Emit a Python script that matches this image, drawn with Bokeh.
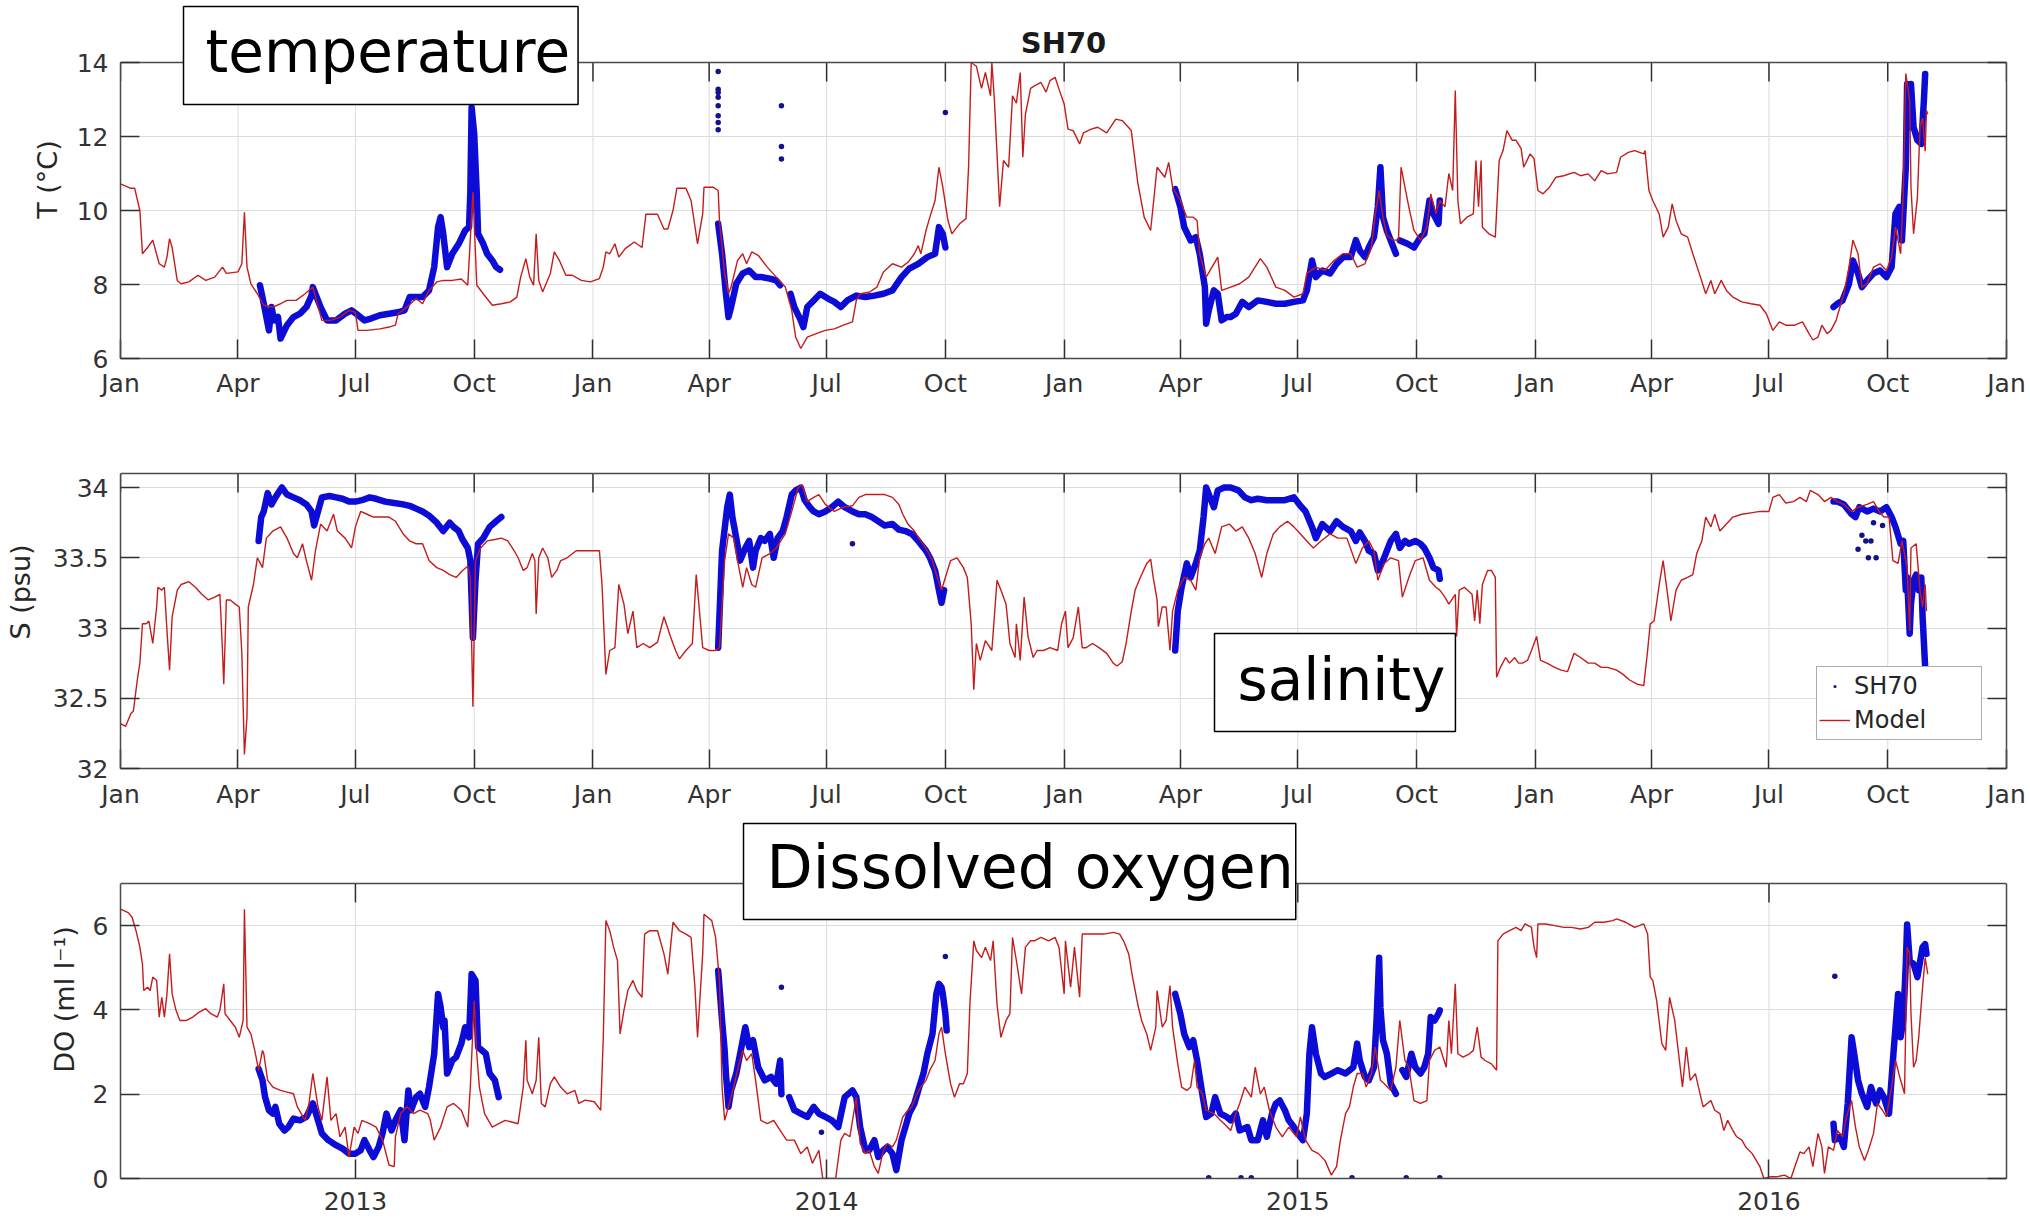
import numpy as np
import pandas as pd
from bokeh.plotting import figure
from bokeh.models import (Range1d, FixedTicker, LinearAxis, Label, Legend,
                          LegendItem, NumeralTickFormatter)
from bokeh.layouts import column
from bokeh.embed import file_html
from bokeh.resources import INLINE

nan = float("nan")

# ---------------------------------------------------------------- data
# x values are days since 2012-01-01
quarter_tick_dates = ["2012-01-01", "2012-04-01", "2012-07-01", "2012-10-01",
                      "2013-01-01", "2013-04-01", "2013-07-01", "2013-10-01",
                      "2014-01-01", "2014-04-01", "2014-07-01", "2014-10-01",
                      "2015-01-01", "2015-04-01", "2015-07-01", "2015-10-01",
                      "2016-01-01"]
quarter_tick_labels = ["Jan", "Apr", "Jul", "Oct"] * 4 + ["Jan"]
year_tick_dates = ["2012-07-01", "2013-07-01", "2014-07-01", "2015-07-01"]
year_tick_labels = ["2013", "2014", "2015", "2016"]

T_ticks = [6, 8, 10, 12, 14]
S_ticks = [32, 32.5, 33, 33.5, 34]
S_limits = (32, 34.1)
DO_ticks = [0, 2, 4, 6]
DO_limits = (0, 7)

# ---- Temperature: model (day, degC)
model_T = [(0,10.72),(8,10.6),(11,10.6),(15,10.0),(17,8.83),(21,9.0),(25,9.2),(30,8.56),(34,8.47),(36,8.74),
 (38,9.24),(40,9.0),(44,8.1),(47,8.02),(53,8.07),(60,8.25),(66,8.11),(73,8.2),(79,8.47),(82,8.3),(91,8.34),
 (94,8.56),(96,9.95),(98,8.47),(101,8.02),(106,7.75),(111,7.44),(118,7.39),(124,7.48),(129,7.57),(136,7.57),
 (143,7.75),(149,7.93),(156,7.03),(163,7.03),(170,7.12),(177,7.3),(182,7.25),(184,6.76),(191,6.76),(201,6.8),
 (208,6.85),(213,6.9),(215,7.21),(222,7.39),(229,7.62),(234,7.48),(239,7.84),(245,8.07),(250,8.11),(257,8.11),
 (264,8.15),(269,7.98),(273,10.5),(276,7.98),(281,7.75),(288,7.44),(295,7.48),(302,7.53),(307,7.66),(310,8.2),
 (314,8.7),(317,8.2),(320,7.98),(322,9.37),(324,8.11),(327,7.8),(333,8.3),(336,8.88),(340,8.65),(345,8.25),
 (350,8.25),(357,8.11),(364,8.07),(371,8.16),(374,8.47),(376,8.88),(379,8.83),(383,9.1),(386,8.74),(391,8.97),
 (398,9.15),(404,9.0),(407,9.9),(416,9.9),(421,9.5),(424,9.5),(428,10.0),(431,10.6),(438,10.6),(442,10.27),
 (447,9.1),(451,9.91),(452,10.63),(459,10.63),(463,10.54),(464,9.73),(468,8.3),(471,7.75),(473,7.93),(478,8.65),
 (482,8.83),(485,8.56),(489,8.88),(494,8.79),(501,8.47),(508,8.2),(515,7.93),(520,7.3),(523,6.58),(527,6.27),
 (532,6.58),(539,6.67),(546,6.76),(553,6.8),(560,6.9),(567,6.99),(570,7.57),(573,7.75),(580,7.79),(586,7.93),
 (591,8.34),(598,8.56),(605,8.47),(610,8.6),(615,8.83),(618,9.05),(620,8.83),(624,9.46),(627,9.82),(631,10.27),
 (634,11.17),(637,10.63),(641,9.73),(644,9.37),(650,9.64),(655,9.78),(657,11.2),(659,14.0),(663,13.9),(667,13.3),
 (670,13.73),(674,13.1),(675,14.0),(677,12.97),(681,10.1),(684,11.35),(688,11.17),(691,13.1),(694,12.9),(697,13.73),
 (699,11.44),(701,12.6),(705,13.3),(708,13.37),(713,13.46),(717,13.2),(720,13.51),(724,13.6),(727,13.28),(731,12.88),
 (734,12.2),(738,12.16),(743,11.8),(746,12.1),(752,12.2),(757,12.25),(764,12.1),(771,12.47),(776,12.43),(783,12.16),
 (788,10.76),(793,9.82),(798,9.46),(803,11.17),(809,10.9),(812,11.3),(815,10.63),(821,10.27),(826,9.82),(831,9.82),
 (834,9.73),(836,8.83),(841,8.2),(847,8.56),(850,8.74),(853,7.84),(860,7.93),(867,8.02),(874,8.2),(883,8.7),
 (888,8.47),(895,7.93),(902,7.84),(909,7.66),(916,7.75),(919,8.3),(926,8.47),(933,8.38),(940,8.65),(947,8.83),
 (953,8.83),(958,8.47),(964,8.56),(969,9.0),(972,9.9),(975,10.54),(978,9.82),(981,9.33),(986,9.2),(990,9.2),
 (992,11.17),(995,10.63),(998,10.1),(1002,9.46),(1007,9.2),(1012,9.55),(1015,10.45),(1019,9.91),(1022,10.27),
 (1026,10.1),(1029,11.0),(1032,10.54),(1034,13.24),(1036,10.27),(1038,9.64),(1043,9.82),(1048,9.91),(1050,11.35),
 (1052,10.1),(1054,11.35),(1055,9.55),(1060,9.37),(1065,9.28),(1068,11.35),(1071,11.62),(1074,12.16),(1078,11.9),
 (1081,11.9),(1085,11.67),(1087,11.17),(1092,11.53),(1095,11.4),(1098,10.54),(1102,10.45),(1107,10.63),(1112,10.9),
 (1118,10.94),(1126,11.03),(1131,10.94),(1137,10.99),(1142,10.8),(1147,11.08),(1152,10.99),(1159,11.03),(1162,11.44),
 (1168,11.57),(1173,11.62),(1180,11.53),(1181,11.62),(1184,10.54),(1187,10.27),(1192,9.9),(1195,9.28),(1199,9.55),
 (1202,10.18),(1205,9.73),(1209,9.37),(1214,9.28),(1218,8.83),(1223,8.3),(1228,7.75),(1232,8.11),(1235,7.75),
 (1240,8.11),(1244,7.84),(1249,7.66),(1256,7.53),(1263,7.48),(1270,7.44),(1275,7.21),(1280,6.76),(1285,6.99),
 (1290,6.9),(1297,6.9),(1303,6.99),(1308,6.67),(1311,6.5),(1315,6.58),(1318,6.9),(1322,6.67),(1325,6.76),
 (1329,7.03),(1332,7.39),(1335,7.75),(1339,8.47),(1342,9.2),(1346,8.83),(1349,7.93),(1353,8.02),(1358,8.47),
 (1363,8.56),(1368,8.38),(1372,8.74),(1375,9.55),(1379,8.83),(1381,10.45),(1383,13.7),(1386,12.97),(1387,10.63),
 (1389,9.37),(1392,10.36),(1394,12.25),(1396,12.5),(1398,11.6),(1399,12.7),(1400,12.6)]

# ---- Temperature: SH70 observations (continuous stretches)
obs_T = [
 [(108,7.98),(111,7.48),(115,6.76),(117,7.39),(119,7.03),(122,7.12),(124,6.54),(129,6.9),(134,7.12),(139,7.21),
  (144,7.39),(148,7.7),(149,7.93),(155,7.39),(160,7.03),(167,7.03),(174,7.21),(179,7.3),(184,7.17),(189,7.03),
  (194,7.08),(201,7.17),(208,7.21),(215,7.25),(220,7.3),(224,7.66),(227,7.66),(234,7.66),(239,7.84),(243,8.47),
  (246,9.55),(248,9.82),(250,9.37),(253,8.47),(257,8.83),(262,9.1),(267,9.46),(270,9.55),(271,10.5),(272,12.79),
  (274,12.07),(276,10.45),(277,9.37),(281,9.1),(284,8.83),(288,8.65),(291,8.47),(294,8.4)],
 [(463,9.64),(466,8.83),(469,7.75),(471,7.12),(473,7.39),(477,8.02),(482,8.3),(487,8.38),(492,8.2),(497,8.2),
  (503,8.16),(508,8.11),(511,7.98)],
 [(519,7.75),(522,7.39),(527,7.03),(529,6.85),(532,7.39),(537,7.57),(542,7.75),(548,7.62),(553,7.53),(558,7.39),
  (563,7.57),(570,7.7),(577,7.66),(584,7.7),(591,7.75),(598,7.84),(605,8.2),(611,8.43),(618,8.56),(625,8.74),
  (631,8.83),(634,9.55),(637,9.37),(639,9.0)],
 [(817,10.58),(821,10.1),(824,9.55),(829,9.19),(833,9.28),(836,8.83),(840,7.93),(841,6.94),(843,7.3),(847,7.84),
  (850,7.75),(853,7.03),(857,7.12),(860,7.12),(864,7.21),(869,7.53),(874,7.39),(881,7.57),(888,7.53),(895,7.48),
  (902,7.48),(909,7.53),(916,7.57),(919,7.84),(923,8.65),(926,8.2),(931,8.38),(937,8.3),(942,8.56),(947,8.74),
  (953,8.74),(957,9.2),(960,8.92),(964,8.74),(967,9.0),(971,9.28),(974,10.1),(976,11.17),(978,9.82),(981,9.46),
  (984,9.19),(988,8.83)],
 [(991,9.19),(997,9.1),(1002,9.0),(1007,9.28),(1010,9.37),(1014,10.27),(1017,9.91),(1021,9.64),(1022,10.27)],
 [(1327,7.39),(1330,7.48),(1334,7.57),(1339,8.02),(1342,8.65),(1346,8.3),(1349,7.93),(1353,8.11),(1358,8.3),
  (1363,8.38),(1368,8.2),(1372,8.47),(1375,9.91),(1378,10.1),(1380,9.19),(1383,11.17),(1384,13.42),(1386,12.25),
  (1387,13.42),(1389,12.25),(1392,11.9),(1395,11.8),(1397,12.97),(1398,13.69)],
]
obs_T_isolated = [(463,13.76),(463,13.28),(463,13.19),(463,13.06),(463,12.83),(463,12.56),(463,12.38),(463,12.18),
                  (512,12.83),(512,11.73),(512,11.39),(639,12.65)]

# ---- Salinity: model (day, psu)
model_S = [(0,32.32),(4,32.30),(8,32.39),(10,32.41),(13,32.63),(15,32.75),(17,33.03),(20,33.03),(22,33.05),(25,32.89),
 (28,33.15),(29,33.29),(32,33.27),(34,33.29),(36,32.98),(38,32.7),(40,33.08),(44,33.27),(47,33.31),(53,33.33),
 (58,33.29),(63,33.24),(68,33.2),(73,33.22),(77,33.24),(79,32.84),(80,32.6),(82,33.2),(85,33.2),(89,33.17),
 (92,33.15),(94,32.82),(96,32.1),(98,32.37),(99,33.15),(103,33.31),(106,33.5),(110,33.43),(113,33.64),(118,33.69),
 (124,33.72),(129,33.64),(134,33.53),(137,33.5),(141,33.6),(144,33.48),(148,33.34),(151,33.55),(155,33.74),(160,33.69),
 (165,33.81),(168,33.69),(174,33.64),(179,33.57),(182,33.72),(186,33.83),(191,33.81),(196,33.79),(201,33.79),
 (208,33.79),(213,33.76),(219,33.67),(224,33.62),(229,33.6),(234,33.6),(239,33.48),(245,33.43),(250,33.41),
 (255,33.38),(260,33.36),(265,33.41),(269,33.44),(271,33.36),(273,32.44),(275,33.48),(279,33.57),(284,33.62),
 (290,33.63),(295,33.64),(300,33.62),(305,33.55),(308,33.5),(312,33.41),(315,33.43),(319,33.53),(321,33.48),
 (322,33.1),(324,33.5),(327,33.57),(331,33.5),(334,33.36),(338,33.41),(341,33.48),(346,33.5),(353,33.55),
 (360,33.55),(367,33.55),(371,33.55),(373,33.31),(376,32.67),(379,32.84),(383,32.86),(386,33.31),(390,33.17),
 (393,32.96),(397,33.12),(400,32.86),(405,32.89),(410,32.86),(416,32.9),(421,33.08),(426,32.94),(430,32.84),
 (433,32.78),(438,32.84),(443,32.89),(446,33.38),(451,32.86),(456,32.84),(461,32.84),(464,32.86),(468,33.48),
 (471,33.67),(475,33.64),(478,33.48),(482,33.29),(485,33.43),(489,33.31),(492,33.29),(497,33.5),(503,33.53),
 (508,33.57),(515,33.67),(520,33.83),(525,34.0),(528,34.02),(532,33.9),(537,33.93),(541,33.95),(546,33.88),
 (553,33.83),(560,33.86),(567,33.87),(572,33.93),(577,33.95),(582,33.95),(587,33.95),(592,33.95),(598,33.93),
 (603,33.88),(606,33.81),(610,33.74),(615,33.69),(620,33.62),(625,33.55),(629,33.48),(632,33.38),(636,33.27),
 (639,33.36),(643,33.48),(648,33.5),(653,33.43),(656,33.36),(659,33.03),(661,32.56),(663,32.89),(666,32.77),
 (670,32.91),(675,32.84),(679,33.34),(682,33.27),(686,33.17),(689,32.89),(693,32.79),(694,33.03),(697,32.77),
 (700,33.22),(703,32.94),(707,32.79),(710,32.84),(715,32.84),(720,32.86),(726,32.84),(729,33.03),(732,33.12),
 (734,32.86),(738,32.93),(742,33.15),(745,32.86),(748,32.86),(753,32.89),(758,32.86),(764,32.82),(769,32.75),
 (772,32.73),(776,32.76),(779,32.89),(783,33.12),(786,33.27),(790,33.36),(795,33.46),(798,33.49),(800,33.36),
 (803,33.2),(804,33.01),(807,33.15),(810,33.15),(813,32.84),(815,33.12),(819,33.27),(824,33.36),(829,33.34),
 (833,33.27),(836,33.5),(840,33.6),(843,33.64),(848,33.53),(853,33.72),(859,33.74),(864,33.69),(869,33.72),
 (874,33.64),(879,33.53),(884,33.36),(888,33.53),(893,33.67),(898,33.72),(904,33.76),(909,33.72),(914,33.67),
 (919,33.62),(924,33.57),(930,33.62),(937,33.67),(943,33.64),(950,33.64),(957,33.46),(962,33.57),(967,33.62),
 (971,33.55),(974,33.34),(979,33.46),(984,33.5),(990,33.48),(993,33.22),(998,33.36),(1003,33.48),(1009,33.5),
 (1014,33.34),(1019,33.29),(1022,33.27),(1026,33.22),(1029,33.17),(1034,33.24),(1035,32.94),(1037,33.27),
 (1041,33.29),(1047,33.24),(1049,33.05),(1051,33.27),(1053,33.03),(1055,33.31),(1059,33.41),(1062,33.41),
 (1065,33.36),(1066,32.65),(1069,32.72),(1073,32.79),(1076,32.75),(1080,32.79),(1083,32.75),(1086,32.75),
 (1090,32.77),(1093,32.84),(1097,32.94),(1100,32.77),(1105,32.75),(1111,32.72),(1116,32.7),(1121,32.69),
 (1126,32.82),(1131,32.79),(1137,32.75),(1142,32.75),(1147,32.72),(1152,32.72),(1159,32.7),(1164,32.67),
 (1169,32.63),(1175,32.6),(1180,32.59),(1183,32.84),(1185,33.03),(1188,33.05),(1192,33.31),(1195,33.48),
 (1199,33.2),(1201,33.05),(1205,33.27),(1209,33.34),(1214,33.36),(1218,33.38),(1221,33.53),(1225,33.62),
 (1228,33.79),(1232,33.72),(1235,33.81),(1239,33.69),(1244,33.74),(1249,33.79),(1256,33.81),(1263,33.82),
 (1270,33.83),(1277,33.83),(1280,33.93),(1285,33.95),(1290,33.89),(1296,33.9),(1301,33.93),(1306,33.9),
 (1309,33.98),(1315,33.95),(1320,33.9),(1325,33.93),(1330,33.9),(1335,33.88),(1341,33.83),(1346,33.86),
 (1353,33.88),(1358,33.9),(1363,33.82),(1366,33.79),(1370,33.79),(1373,33.48),(1377,33.46),(1380,33.62),
 (1384,33.43),(1386,32.98),(1387,33.57),(1391,33.6),(1394,33.27),(1396,33.15),(1398,33.31),(1399,33.12)]

obs_S = [
 [(107,33.62),(109,33.79),(111,33.83),(114,33.96),(117,33.88),(120,33.93),(125,34.0),(129,33.95),(134,33.93),
  (139,33.91),(144,33.88),(148,33.83),(150,33.73),(153,33.83),(156,33.93),(162,33.94),(167,33.93),(172,33.92),
  (177,33.9),(182,33.9),(187,33.91),(193,33.93),(198,33.92),(205,33.9),(212,33.89),(219,33.88),(224,33.87),
  (229,33.85),(234,33.83),(239,33.8),(245,33.75),(250,33.69),(255,33.75),(258,33.72),(262,33.69),(265,33.63),
  (269,33.57),(271,33.48),(273,32.93),(275,33.34),(277,33.6),(281,33.64),(286,33.72),(291,33.76),(295,33.79)],
 [(463,32.86),(466,33.55),(470,33.86),(472,33.95),(474,33.79),(477,33.64),(480,33.48),(484,33.57),(487,33.62),
  (490,33.43),(492,33.55),(496,33.64),(499,33.62),(503,33.67),(506,33.5),(509,33.64),(513,33.69),(516,33.79),
  (520,33.95),(523,33.98),(527,34.0),(530,33.91),(534,33.86),(537,33.83),(541,33.81),(546,33.83),(551,33.86),
  (556,33.9),(561,33.86),(567,33.83),(572,33.81),(577,33.81),(582,33.79),(587,33.76),(592,33.73),(598,33.74),
  (603,33.7),(608,33.69),(613,33.67),(618,33.62),(624,33.55),(627,33.5),(631,33.41),(634,33.27),(636,33.18),
  (638,33.27)],
 [(817,32.84),(819,33.12),(822,33.29),(826,33.46),(829,33.36),(833,33.46),(836,33.55),(839,33.79),(841,34.0),
  (844,33.93),(847,33.86),(850,33.98),(855,34.0),(860,34.0),(866,33.98),(871,33.93),(876,33.91),(881,33.92),
  (888,33.91),(895,33.91),(902,33.91),(909,33.93),(914,33.87),(918,33.83),(923,33.72),(926,33.64),(931,33.74),
  (937,33.69),(942,33.76),(947,33.72),(953,33.69),(957,33.62),(960,33.68),(964,33.62),(967,33.55),(971,33.53),
  (974,33.41),(978,33.48),(981,33.55),(984,33.62),(988,33.67),(991,33.57),(995,33.62),(998,33.6),(1003,33.62),
  (1007,33.6),(1010,33.57),(1014,33.5),(1017,33.43),(1021,33.41),(1022,33.35)],
 [(1327,33.9),(1330,33.9),(1335,33.88),(1341,33.81),(1344,33.79),(1347,33.86),(1353,33.83),(1358,33.85),
  (1363,33.83),(1368,33.86),(1372,33.79),(1375,33.72),(1379,33.6),(1381,33.62),(1383,33.27),(1384,33.36),
  (1386,32.96),(1387,33.17),(1389,33.34),(1391,33.38),(1393,33.27),(1395,33.36),(1396,33.08),(1398,32.72)],
]
obs_S_isolated = [(567,33.6),(1346,33.56),(1349,33.66),(1352,33.62),(1354,33.5),(1356,33.62),(1358,33.75),
                  (1360,33.5),(1365,33.73)]

# ---- Dissolved oxygen: model (day, ml/l)
model_DO = [(0,6.39),(6,6.31),(9,6.2),(12,5.88),(15,5.49),(17,5.09),(18,4.46),(21,4.54),(23,4.46),(25,4.78),
 (28,4.7),(30,3.83),(32,4.3),(34,3.83),(36,4.38),(38,5.33),(40,4.38),(43,3.99),(46,3.75),(51,3.75),(56,3.83),
 (61,3.95),(66,4.03),(70,3.91),(75,3.83),(77,3.99),(80,4.62),(81,3.91),(85,3.75),(89,3.59),(92,3.35),(95,3.75),
 (96,6.39),(98,3.59),(101,3.43),(104,3.04),(107,2.57),(110,3.04),(111,2.96),(114,2.33),(118,2.17),(124,2.09),
 (129,2.05),(134,2.01),(137,1.7),(143,1.38),(146,1.78),(149,2.49),(153,1.7),(156,1.38),(160,2.41),(163,1.38),
 (167,1.54),(170,0.99),(174,1.22),(177,0.51),(181,1.22),(184,1.07),(187,1.38),(193,1.3),(198,1.22),(203,0.91),
 (208,0.32),(212,0.28),(213,0.99),(217,1.54),(222,1.7),(227,1.54),(232,1.62),(238,1.54),(240,1.38),(243,0.91),
 (248,1.22),(253,1.7),(258,1.78),(264,1.62),(269,1.22),(271,2.17),(274,4.22),(276,2.96),(278,2.17),(282,1.54),
 (288,1.22),(293,1.3),(298,1.38),(303,1.34),(308,1.3),(312,2.17),(314,3.28),(315,2.33),(319,2.01),(322,2.33),
 (324,3.35),(326,1.78),(329,1.7),(333,2.25),(336,2.41),(341,2.17),(346,2.01),(352,2.09),(355,1.78),(360,1.86),
 (367,1.82),(372,1.62),(374,3.35),(376,6.12),(379,5.88),(382,5.49),(385,5.17),(387,3.43),(390,3.99),(393,4.46),
 (397,4.7),(400,4.46),(404,4.3),(406,5.8),(410,5.88),(416,5.88),(421,5.33),(424,4.85),(428,6.08),(433,5.88),
 (438,5.8),(442,5.72),(445,4.54),(447,3.35),(451,5.33),(452,6.27),(458,6.12),(461,5.72),(464,4.7),(466,2.17),
 (468,1.38),(471,1.7),(475,2.17),(478,2.57),(482,3.04),(485,2.8),(489,2.96),(492,2.33),(496,1.38),(501,1.3),
 (506,1.38),(511,1.14),(516,0.91),(522,0.91),(527,0.59),(532,0.75),(536,0.36),(541,0.67),(544,0.0),(549,0.0),
 (554,0.0),(558,0.91),(561,1.07),(565,0.99),(570,1.93),(573,0.83),(577,0.59),(580,0.67),(584,0.28),(587,0.12),
 (591,0.67),(594,0.83),(598,0.75),(601,0.91),(606,1.46),(610,1.62),(613,1.7),(617,2.01),(620,2.17),(624,2.33),
 (627,2.57),(631,2.8),(634,3.43),(636,3.59),(639,2.96),(643,2.25),(646,1.93),(650,2.25),(653,2.25),(656,2.49),
 (658,4.14),(661,5.64),(663,5.41),(667,5.24),(670,5.49),(674,5.17),(676,5.64),(679,4.14),(682,3.35),(686,3.75),
 (689,3.91),(691,5.72),(694,5.17),(698,4.38),(701,5.49),(705,5.64),(708,5.64),(713,5.72),(719,5.64),(724,5.72),
 (727,5.49),(731,4.38),(732,5.64),(736,4.54),(739,5.49),(743,4.3),(745,5.8),(748,5.8),(755,5.8),(762,5.8),
 (769,5.84),(774,5.8),(777,5.64),(781,5.33),(784,4.78),(788,4.14),(791,3.75),(795,3.43),(798,3.04),(802,3.59),
 (803,4.46),(807,3.59),(810,3.75),(813,4.58),(815,3.59),(819,2.72),(822,2.17),(826,2.09),(829,2.17),(832,2.8),
 (834,2.17),(838,2.01),(841,1.62),(847,1.54),(852,1.38),(855,1.3),(860,1.14),(864,1.54),(867,1.78),(871,2.17),
 (876,1.93),(879,2.64),(883,2.01),(886,2.17),(890,1.62),(895,1.22),(900,0.99),(905,1.22),(911,0.99),(914,1.46),
 (918,0.91),(923,0.67),(928,0.59),(933,0.43),(938,0.08),(942,0.28),(945,0.91),(949,1.54),(952,1.7),(955,2.17),
 (958,2.49),(962,2.49),(965,2.17),(969,2.49),(972,3.12),(976,2.33),(979,2.25),(984,2.09),(988,2.64),(991,3.75),
 (995,2.8),(998,2.64),(1002,1.85),(1007,1.78),(1012,1.85),(1014,2.8),(1018,3.04),(1022,3.12),(1027,2.64),
 (1029,3.75),(1031,2.96),(1034,4.62),(1036,2.96),(1040,2.88),(1045,2.96),(1048,3.04),(1051,3.59),(1054,2.88),
 (1057,2.8),(1062,2.72),(1066,2.57),(1067,5.64),(1071,5.8),(1076,5.88),(1081,5.96),(1085,5.88),(1088,6.04),
 (1093,5.96),(1095,5.49),(1097,5.24),(1098,6.04),(1104,6.04),(1111,6.0),(1118,5.96),(1124,5.96),(1131,5.92),
 (1137,5.96),(1142,6.08),(1149,6.08),(1156,6.12),(1159,6.16),(1166,6.08),(1173,5.96),(1180,6.04),(1183,5.8),
 (1185,4.78),(1187,4.7),(1190,4.22),(1194,3.2),(1197,3.04),(1200,4.3),(1204,3.75),(1207,2.96),(1210,2.17),
 (1213,3.12),(1216,2.33),(1220,2.49),(1223,2.09),(1226,1.7),(1232,1.85),(1235,1.62),(1239,1.54),(1242,1.14),
 (1245,1.38),(1249,1.14),(1252,0.99),(1256,0.91),(1259,0.75),(1264,0.59),(1270,0.28),(1273,0.0),(1278,0.04),
 (1283,0.04),(1289,0.08),(1294,0.0),(1297,0.28),(1301,0.63),(1304,0.59),(1308,0.75),(1311,0.28),(1315,1.07),
 (1318,0.75),(1320,0.12),(1323,0.75),(1327,0.67),(1330,1.14),(1334,0.99),(1337,1.46),(1341,1.85),(1344,1.22),
 (1347,0.75),(1351,0.43),(1354,0.67),(1358,1.07),(1361,1.78),(1365,1.62),(1368,1.46),(1372,2.17),(1375,2.8),
 (1379,2.33),(1382,2.01),(1384,5.49),(1386,5.33),(1387,3.91),(1389,2.64),(1391,2.8),(1393,3.35),(1396,4.54),
 (1398,5.24),(1400,4.85)]

obs_DO = [
 [(107,2.6),(110,2.33),(112,1.93),(115,1.62),(118,1.54),(120,1.7),(123,1.3),(127,1.14),(130,1.22),(134,1.42),
  (139,1.38),(144,1.46),(149,1.78),(153,1.38),(156,1.07),(161,0.91),(167,0.79),(172,0.71),(177,0.59),(182,0.59),
  (186,0.67),(189,0.91),(193,0.67),(196,0.51),(200,0.75),(203,1.07),(206,1.54),(210,1.14),(213,1.38),(217,1.62),
  (220,0.91),(223,2.09),(225,1.62),(229,1.93),(232,2.01),(236,1.7),(239,2.17),(243,2.96),(246,4.38),(248,4.06),
  (250,3.59),(251,3.75),(253,2.49),(257,2.8),(260,2.88),(264,3.2),(267,3.59),(270,3.35),(272,4.85),(275,4.7),
  (277,3.12),(283,2.96),(286,2.49),(290,2.33),(293,1.93)],
 [(463,4.93),(466,3.75),(468,3.04),(469,2.49),(471,1.7),(473,2.09),(477,2.49),(480,2.96),(484,3.59),(487,3.12),
  (490,3.28),(494,2.64),(499,2.33),(504,2.41),(508,2.25),(511,2.8),(512,2.0)],
 [(518,1.93),(522,1.62),(527,1.54),(532,1.46),(537,1.7),(541,1.54),(546,1.46),(551,1.38),(556,1.22),(561,1.93),
  (567,2.09),(570,1.93),(573,1.22),(577,0.67),(580,0.67),(584,0.91),(587,0.51),(591,0.67),(594,0.75),(598,0.59),
  (601,0.2),(605,0.91),(608,1.22),(611,1.54),(615,1.78),(618,2.09),(622,2.49),(625,2.96),(629,3.43),(632,4.38),
  (634,4.62),(636,4.54),(637,4.38),(639,3.91),(640,3.51)],
 [(817,4.38),(821,3.91),(824,3.43),(828,3.12),(831,3.28),(834,2.8),(838,2.01),(841,1.46),(845,1.54),(848,1.93),
  (852,1.54),(857,1.46),(860,1.38),(864,1.54),(867,1.14),(873,1.22),(876,0.91),(881,0.91),(885,1.38),(888,0.99),
  (892,1.54),(895,1.78),(898,1.85),(902,1.62),(905,1.38),(909,1.22),(912,1.07),(916,0.91),(919,1.54),(921,2.96),
  (923,3.59),(926,2.96),(930,2.49),(933,2.41),(938,2.49),(943,2.57),(949,2.49),(955,2.64),(958,3.2),(960,2.8),
  (964,2.41),(967,2.33),(971,2.64),(973,3.75),(975,5.24),(976,4.06),(978,3.28),(981,2.96),(984,2.25),(988,2.01)],
 [(993,2.57),(996,2.41),(1000,2.96),(1003,2.64),(1007,2.49),(1010,2.64),(1013,2.96),(1015,3.83),(1018,3.75),
  (1021,3.91),(1022,3.99)],
 [(1327,1.3),(1328,0.91),(1332,0.99),(1335,0.75),(1338,1.78),(1341,3.35),(1343,2.96),(1346,2.33),(1349,2.01),
  (1353,1.7),(1356,2.17),(1360,1.78),(1363,2.09),(1366,1.93),(1370,1.54),(1373,2.8),(1375,3.59),(1377,4.38),
  (1379,3.35),(1381,3.75),(1383,5.09),(1384,6.03),(1386,5.17),(1389,5.09),(1392,4.78),(1396,5.49),(1398,5.56),
  (1399,5.33)],
]
obs_DO_isolated = [(512,4.54),(543,1.1),(639,5.27),(843,0.02),(868,0.02),(876,0.02),(954,0.02),(996,0.02),
                   (1022,0.02),(1328,4.8)]

# ---------------------------------------------------------------- helpers
origin = pd.Timestamp("2012-01-01")


def day_of(d):
    return int((pd.Timestamp(d) - origin).days)


quarter_ticks = [day_of(d) for d in quarter_tick_dates]
year_ticks = [day_of(d) for d in year_tick_dates]
X0, X1 = quarter_ticks[0], quarter_ticks[-1]


def unzip(pairs):
    return (np.array([p[0] for p in pairs], dtype=float),
            np.array([p[1] for p in pairs], dtype=float))


def join_segments(segs):
    xs, ys = [], []
    for s in segs:
        xs += [p[0] for p in s] + [nan]
        ys += [p[1] for p in s] + [nan]
    return np.array(xs, dtype=float), np.array(ys, dtype=float)


FONT = "DejaVu Sans"
TXT = "#262626"
FRAME = "#4a4a4a"
TICK = "#303030"
GRID = "#dcdcdc"
RED = "#c41c1c"
BLUE = "#0c0cd6"
DOT = "#12128a"
TICK_PX = 19

x_range = Range1d(X0, X1)


def style_axis(ax, standoff):
    ax.axis_line_color = FRAME
    ax.axis_line_width = 1.5
    ax.major_tick_line_color = TICK
    ax.major_tick_line_width = 1.5
    ax.major_tick_in = TICK_PX
    ax.major_tick_out = 0
    ax.minor_tick_line_color = None
    ax.major_label_text_font = FONT
    ax.major_label_text_font_size = "25px"
    ax.major_label_text_color = "#333333"
    ax.major_label_standoff = standoff


def make_panel(height, data_top_px, b_bottom, y_lo, y_hi, y_ticks, y_label, y_label_standoff,
               x_ticks, x_labels, x_standoff):
    """Frame starts at the canvas top; the data box starts data_top_px lower,
    so that boxed notes above the data box stay inside the drawable frame."""
    frame_h = height - b_bottom
    data_h = frame_h - data_top_px
    y_end = y_hi + (y_hi - y_lo) * data_top_px / data_h
    p = figure(width=2030, height=height, x_range=x_range, y_range=Range1d(y_lo, y_end),
               title=None, output_backend="svg", toolbar_location=None, tools="",
               min_border_left=120, min_border_right=24,
               min_border_top=0, min_border_bottom=b_bottom,
               outline_line_color=None, background_fill_color="white",
               border_fill_color="white")
    xt = FixedTicker(ticks=x_ticks)
    yt = FixedTicker(ticks=y_ticks)
    xa = p.xaxis[0]
    ya = p.yaxis[0]
    xa.ticker = xt
    xa.major_label_overrides = {t: lab for t, lab in zip(x_ticks, x_labels)}
    ya.ticker = yt
    ya.bounds = (y_lo, y_hi)
    ya.formatter = NumeralTickFormatter(format="0.[0]")
    ya.axis_label = y_label
    ya.axis_label_text_font = FONT
    ya.axis_label_text_font_size = "27px"
    ya.axis_label_text_font_style = "normal"
    ya.axis_label_text_color = TXT
    ya.axis_label_standoff = y_label_standoff
    style_axis(xa, x_standoff)
    style_axis(ya, 12)

    right = LinearAxis(ticker=yt, bounds=(y_lo, y_hi))
    style_axis(right, 0)
    right.major_label_text_font_size = "0px"
    right.major_label_text_alpha = 0
    p.add_layout(right, "right")

    # horizontal grid from Bokeh; vertical grid only inside the data box
    p.xgrid.visible = False
    p.ygrid.ticker = yt
    p.ygrid.grid_line_color = GRID
    p.ygrid.grid_line_width = 1
    n = len(x_ticks)
    p.segment(x0=x_ticks, y0=[y_lo] * n, x1=x_ticks, y1=[y_hi] * n,
              line_color=GRID, line_width=1, level="underlay")

    px_per_unit = data_h / (y_hi - y_lo)
    p._box = dict(y_lo=y_lo, y_hi=y_hi, tick=TICK_PX / px_per_unit, ticks=x_ticks)
    return p


def close_box(p):
    b = p._box
    n = len(b["ticks"])
    # top edge of the data box and its inward ticks
    p.segment(x0=b["ticks"], y0=[b["y_hi"]] * n, x1=b["ticks"], y1=[b["y_hi"] - b["tick"]] * n,
              line_color=TICK, line_width=1.5)
    p.segment(x0=[X0], y0=[b["y_hi"]], x1=[X1], y1=[b["y_hi"]],
              line_color=FRAME, line_width=1.5)


def draw(p, model, obs, isolated):
    ox, oy = join_segments(obs)
    p.line(ox, oy, line_color=BLUE, line_width=6.5, line_join="round", line_cap="round")
    ix, iy = unzip(isolated)
    dots = p.scatter(ix, iy, size=22, color=DOT, marker="dot")
    mx, my = unzip(model)
    line = p.line(mx, my, line_color=RED, line_width=1.4)
    close_box(p)
    return dots, line


def boxed(p, text, x, y, size, pad):
    p.add_layout(Label(x=x, y=y, x_units="screen", y_units="screen", anchor="top_left",
                       text=text, text_font=FONT, text_font_size=f"{size}px",
                       text_color="black", background_fill_color="white",
                       background_fill_alpha=1.0, border_line_color="black",
                       border_line_width=1.5, padding=pad))


# ---------------------------------------------------------------- panels
# panel 1: canvas 415 px, data box from 62 px to 358 px
p1 = make_panel(415, 62, 57, T_ticks[0], T_ticks[-1], T_ticks, "T (°C)", 11,
                quarter_ticks, quarter_tick_labels, 10)
draw(p1, model_T, obs_T, obs_T_isolated)
p1.add_layout(Label(x=943, y=316, x_units="screen", y_units="screen", text="SH70",
                    text_font=FONT, text_font_size="29px", text_font_style="bold",
                    text_color="#1a1a1a", text_align="center", text_baseline="alphabetic"))
boxed(p1, "temperature", 63, 352, 58, dict(left=22, right=8, top=11, bottom=19))

# panel 2: canvas 405 px, data box from 58 px to 353 px
p2 = make_panel(405, 58, 52, S_limits[0], S_limits[1], S_ticks, "S (psu)", 14,
                quarter_ticks, quarter_tick_labels, 11)
dots_S, line_S = draw(p2, model_S, obs_S, obs_S_isolated)
boxed(p2, "salinity", 1094, 135, 58, dict(left=23, right=10, top=12, bottom=18))
legend = Legend(items=[LegendItem(label="SH70", renderers=[dots_S]),
                       LegendItem(label="Model", renderers=[line_S])],
                location=(1696, 28), orientation="vertical", margin=0, padding=2, spacing=0,
                label_text_font=FONT, label_text_font_size="24px", label_text_color=TXT,
                glyph_width=31, glyph_height=34, label_height=34, label_width=125,
                label_standoff=4, border_line_color="#5a5a5a", border_line_width=1.2,
                background_fill_color="white", background_fill_alpha=1.0)
p2.add_layout(legend)

# panel 3: canvas 401 px, data box from 63 px to 358 px
p3 = make_panel(401, 63, 43, DO_limits[0], DO_limits[1], DO_ticks, "DO (ml l\u207b\u00b9)", 10,
                year_ticks, year_tick_labels, 13)
draw(p3, model_DO, obs_DO, obs_DO_isolated)
boxed(p3, "Dissolved oxygen", 623, 355, 60, dict(left=23, right=2, top=8, bottom=18))

layout = column(p1, p2, p3, spacing=0)
open("out.html", "w").write(file_html(layout, INLINE))
